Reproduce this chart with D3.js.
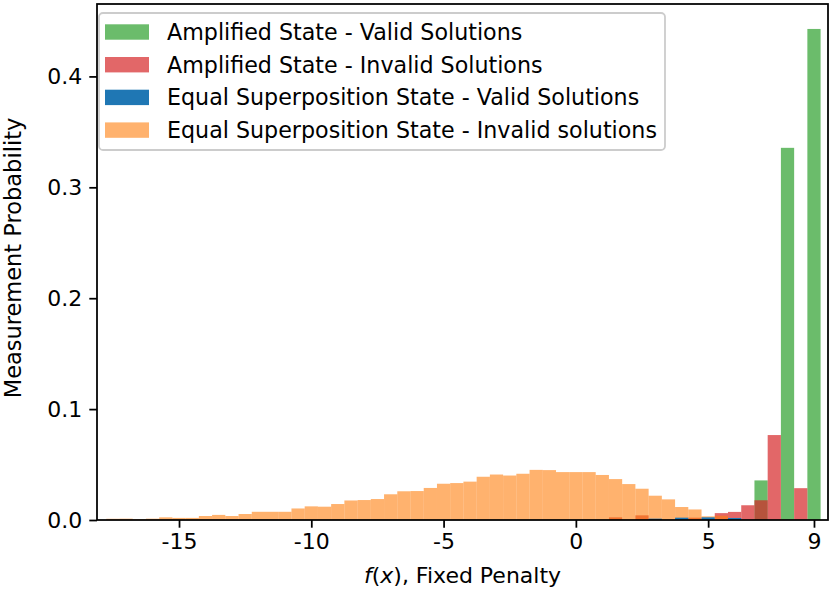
<!DOCTYPE html>
<html>
<head>
<meta charset="utf-8">
<script src="https://cdn.jsdelivr.net/npm/d3@7"></script>
<style>
  body { margin: 0; background: #fff; }
  svg { display: block; font-family: "DejaVu Sans", sans-serif; }
</style>
</head>
<body>
<svg id="chart" width="831" height="594"></svg>
<script>
const orangeBins = [-17.5, -17, -16.5, -16, -15.5, -15, -14.5, -14, -13.5, -13,
  -12.5, -12, -11.5, -11, -10.5, -10, -9.5, -9, -8.5, -8,
  -7.5, -7, -6.5, -6, -5.5, -5, -4.5, -4, -3.5, -3,
  -2.5, -2, -1.5, -1, -0.5, 0, 0.5, 1, 1.5, 2,
  2.5, 3, 3.5, 4, 4.5, 5, 5.5];
const orangeProb = [0.0011, 0.0012, 0.0006, 0.0012, 0.0024, 0.0019, 0.0019, 0.0036, 0.0046, 0.0036,
  0.0054, 0.0074, 0.0074, 0.0074, 0.0104, 0.0123, 0.0120, 0.0144, 0.0176, 0.0180,
  0.0189, 0.0232, 0.0259, 0.0261, 0.0289, 0.0327, 0.0333, 0.0346, 0.0390, 0.0410,
  0.0401, 0.0417, 0.0452, 0.0450, 0.0432, 0.0432, 0.0432, 0.0406, 0.0369, 0.0324,
  0.0282, 0.0219, 0.0186, 0.0117, 0.0095, 0.0033, 0.0039];

const blueBins = [3, 4, 5, 6];
const blueProb = [0.0012, 0.0021, 0.0024, 0.0018];

const redBins = [1.5, 2.5, 4.5, 5.5, 6, 6.5, 7, 7.5, 8.5];
const redProb = [0.0024, 0.0042, 0.0021, 0.0062, 0.0073, 0.0133, 0.0178, 0.0766, 0.0287];

const greenBins = [7, 8, 9];
const greenProb = [0.0357, 0.3356, 0.4428];

const xTicks = [-15, -10, -5, 0, 5, 9];
const xTickLabels = ['-15', '-10', '-5', '0', '5', '9'];
const yTicks = [0, 0.1, 0.2, 0.3, 0.4];
const yTickLabels = ['0.0', '0.1', '0.2', '0.3', '0.4'];

const legendLabels = [
  'Amplified State - Valid Solutions',
  'Amplified State - Invalid Solutions',
  'Equal Superposition State - Valid Solutions',
  'Equal Superposition State - Invalid solutions'
];

// Layout
const margin = { top: 4, right: 3, bottom: 74, left: 97 };
const width = 831 - margin.left - margin.right;
const height = 594 - margin.top - margin.bottom;
const binWidth = 0.5;
const fontSize = 22;

const svg = d3.select('#chart');
const g = svg.append('g').attr('transform', `translate(${margin.left},${margin.top})`);

const x = d3.scaleLinear().domain([-18.1, 9.53]).range([0, width]);
const y = d3.scaleLinear().domain([0, 0.4653]).range([height, 0]);

const series = [
  { bins: greenBins, prob: greenProb, color: '#2ca02c', opacity: 0.7 },
  { bins: redBins, prob: redProb, color: '#d62728', opacity: 0.7 },
  { bins: orangeBins, prob: orangeProb, color: '#ff7f0e', opacity: 0.6 },
  { bins: blueBins, prob: blueProb, color: '#1f77b4', opacity: 1 }
];

// Bars
series.forEach(s => {
  g.append('g')
    .selectAll('rect')
    .data(s.bins.map((b, i) => ({ b: b, p: s.prob[i] })))
    .enter()
    .append('rect')
    .attr('x', d => x(d.b - binWidth / 2))
    .attr('width', d => x(d.b + binWidth / 2) - x(d.b - binWidth / 2))
    .attr('y', d => y(d.p))
    .attr('height', d => y(0) - y(d.p))
    .attr('fill', s.color)
    .attr('fill-opacity', s.opacity);
});

// Axes
const xAxis = d3.axisBottom(x)
  .tickValues(xTicks)
  .tickFormat((d, i) => xTickLabels[i])
  .tickSizeOuter(0)
  .tickSize(7.7)
  .tickPadding(6);
const yAxis = d3.axisLeft(y)
  .tickValues(yTicks)
  .tickFormat((d, i) => yTickLabels[i])
  .tickSizeOuter(0)
  .tickSize(7.7)
  .tickPadding(7);

const gx = g.append('g').attr('transform', `translate(0,${height})`).call(xAxis);
const gy = g.append('g').call(yAxis);
[gx, gy].forEach(a => {
  a.select('.domain').remove();
  a.selectAll('line').attr('stroke', '#000').attr('stroke-width', 1.76);
  a.selectAll('text')
    .attr('fill', '#000')
    .style('font-size', fontSize + 'px')
    .style('font-family', '"DejaVu Sans", sans-serif');
});

// Frame (spines)
g.append('rect')
  .attr('x', 0).attr('y', 0)
  .attr('width', width).attr('height', height)
  .attr('fill', 'none')
  .attr('stroke', '#000')
  .attr('stroke-width', 1.76);

// Axis labels
const xLabel = svg.append('text')
  .attr('x', margin.left + width / 2)
  .attr('y', 583)
  .attr('text-anchor', 'middle')
  .style('font-size', fontSize + 'px');
xLabel.append('tspan').attr('font-style', 'italic').text('f');
xLabel.append('tspan').text('(');
xLabel.append('tspan').attr('font-style', 'italic').text('x');
xLabel.append('tspan').text('), Fixed Penalty');

svg.append('text')
  .attr('transform', `translate(21,${margin.top + height / 2 - 4}) rotate(-90)`)
  .attr('text-anchor', 'middle')
  .style('font-size', '22.5px')
  .text('Measurement Probability');

// Legend
const legendColors = [
  { color: '#2ca02c', opacity: 0.7 },
  { color: '#d62728', opacity: 0.7 },
  { color: '#1f77b4', opacity: 1 },
  { color: '#ff7f0e', opacity: 0.6 }
];
const legend = svg.append('g').attr('transform', 'translate(99,13)');
legend.append('rect')
  .attr('width', 566).attr('height', 137)
  .attr('rx', 4).attr('ry', 4)
  .attr('fill', '#fff').attr('fill-opacity', 0.8)
  .attr('stroke', '#cccccc').attr('stroke-width', 1.8);

const rowH = 32.7;
const rows = legend.selectAll('.legend-row')
  .data(legendLabels)
  .enter()
  .append('g')
  .attr('class', 'legend-row')
  .attr('transform', (d, i) => `translate(0,${19 + i * rowH})`);

rows.append('rect')
  .attr('x', 6).attr('y', -7.7)
  .attr('width', 44).attr('height', 15.4)
  .attr('fill', (d, i) => legendColors[i].color)
  .attr('fill-opacity', (d, i) => legendColors[i].opacity);

rows.append('text')
  .attr('x', 68).attr('y', 8)
  .style('font-size', '22.2px')
  .text(d => d);
</script>
</body>
</html>
